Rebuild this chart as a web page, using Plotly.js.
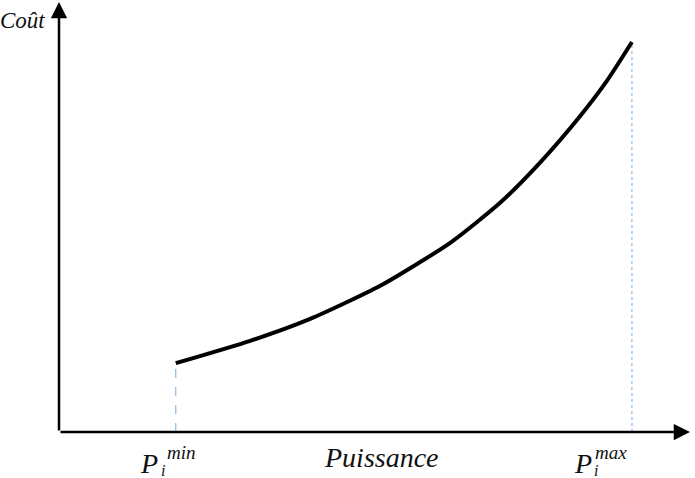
<!DOCTYPE html>
<html>
<head>
<meta charset="utf-8">
<script src="https://cdn.plot.ly/plotly-3.0.1.min.js"></script>
<style>html,body{margin:0;padding:0;background:#fff;}#chart{width:695px;height:478px;}</style>
</head>
<body>
<div id="chart"></div>
<script>
// Power (normalised 0-100) and cost (normalised 0-100)
const puissance = [18.5, 30.3, 39.8, 50.9, 62.0, 69.9, 76.2, 82.6, 86.8, 90.8];
const cout      = [16.0, 21.2, 26.3, 34.0, 44.0, 53.3, 62.6, 73.5, 81.6, 90.7];
const pMin = 18.5;
const pMax = 90.8;
const coutPMin = 16.0;
const coutPMax = 90.7;
const labelX = "Puissance";
const labelY = "Coût";

const serif = "Liberation Serif";

const traces = [
  {x: [pMin, pMin], y: [0, coutPMin], mode: 'lines', line: {color: '#8cb9e8', width: 1.2, dash: 'dash'}, hoverinfo: 'skip'},
  {x: [pMax, pMax], y: [0, coutPMax], mode: 'lines', line: {color: '#8cb9e8', width: 1.2, dash: 'dot'}, hoverinfo: 'skip'},
  {x: puissance, y: cout, mode: 'lines', line: {color: '#000', width: 4, shape: 'spline', smoothing: 0.6}, hoverinfo: 'skip'}
];

function lbl(text, x, xref, xshift, yshift, size, xanchor) {
  return {text: '<i>' + text + '</i>', x: x, xref: xref, y: 0, yref: 'paper', xshift: xshift, yshift: yshift,
          xanchor: xanchor || 'center', yanchor: 'middle', showarrow: false,
          font: {family: serif, size: size, color: '#111'}};
}

const annotations = [
  // axes with arrowheads
  {x: 100, y: 0, xref: 'x', yref: 'y', ax: 0, ay: 0, axref: 'x', ayref: 'y', text: '', showarrow: true,
   arrowhead: 2, arrowsize: 1.3, arrowwidth: 2.5, arrowcolor: '#000'},
  {x: 0, y: 100, xref: 'x', yref: 'y', ax: 0, ay: 0, axref: 'x', ayref: 'y', text: '', showarrow: true,
   arrowhead: 2, arrowsize: 1.3, arrowwidth: 2.5, arrowcolor: '#000'},
  // P_i^min
  lbl('P', pMin, 'x', -27, -31, 28),
  lbl('i', pMin, 'x', -13, -38, 16),
  lbl('min', pMin, 'x', 6, -20, 19),
  // P_i^max
  lbl('P', pMax, 'x', -49, -31, 28),
  lbl('i', pMax, 'x', -36, -38, 16),
  lbl('max', pMax, 'x', -21, -20, 19),
  // axis names
  lbl(labelX, 0.511, 'paper', 0, -25, 28),
  {text: '<i>' + labelY + '</i>', x: 0, xref: 'paper', y: 1, yref: 'paper', xanchor: 'right', yanchor: 'middle',
   xshift: -12, yshift: -18, showarrow: false, font: {family: serif, size: 23, color: '#111'}}
];

const layout = {
  width: 695, height: 478,
  margin: {l: 59, r: 5, t: 2, b: 46, pad: 0},
  paper_bgcolor: '#fff', plot_bgcolor: '#fff',
  showlegend: false,
  font: {family: serif},
  xaxis: {range: [0, 100], visible: false, fixedrange: true},
  yaxis: {range: [0, 100], visible: false, fixedrange: true},
  annotations: annotations
};

Plotly.newPlot('chart', traces, layout, {displayModeBar: false, staticPlot: true});
</script>
</body>
</html>
